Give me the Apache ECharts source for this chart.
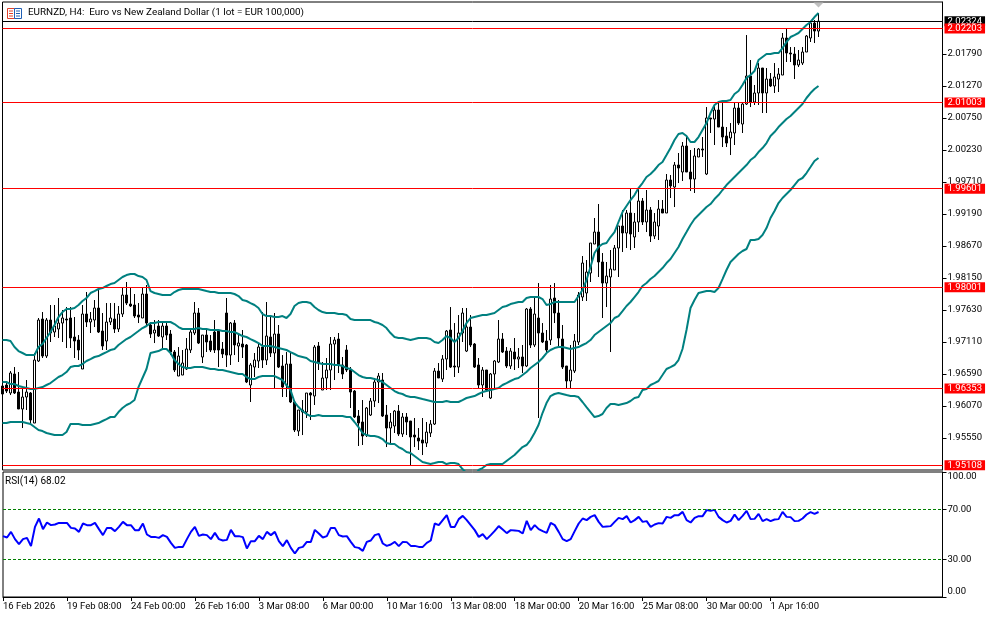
<!DOCTYPE html>
<html><head><meta charset="utf-8">
<style>html,body{margin:0;padding:0;background:#fff}#c{width:994px;height:618px}</style>
<script src="https://cdn.jsdelivr.net/npm/echarts@6/dist/echarts.min.js"></script>
</head><body><div id="c"></div>
<script>
const titleText = "EURNZD, H4:  Euro vs New Zealand Dollar (1 lot = EUR 100,000)";
const rsiText = "RSI(14) 68.02";
const tickLabels = ["16 Feb 2026","19 Feb 08:00","24 Feb 00:00","26 Feb 16:00","3 Mar 08:00","6 Mar 00:00","10 Mar 16:00","13 Mar 08:00","18 Mar 00:00","20 Mar 16:00","25 Mar 08:00","30 Mar 00:00","1 Apr 16:00"];
const priceTicks = [2.0179,2.0127,2.0075,2.0023,1.9971,1.9919,1.9867,1.9815,1.9763,1.9711,1.9659,1.9607,1.9555];
const rsiTicks = [0,30,70,100];
const rsiLabelSlots = [4,30,70,96];
const rsiLevels = [70,30];
const redLevels = [2.02203,2.01003,1.99601,1.98001,1.96353,1.95108];
const lastPrice = 2.02324;
// all prices below in points (1 point = 0.00001)
// [open, close, low, high]
const ohlc = [
[196395,196265,196248,196427],[196411,196313,196281,196476],[196281,196606,196248,196638],[196590,196281,196265,196703],[196297,196021,196021,196622],
[196021,196216,195712,196378],[196216,196297,196005,196492],[196281,195842,195793,196297],[195793,196817,195793,196931],[196801,197467,196785,197500],
[197483,196882,196850,197597],[196882,197467,196850,197500],[197467,197256,197110,197711],[197272,197370,197191,197711],[197321,197418,197175,197825],
[197418,197500,197110,197630],[197483,197467,197012,197678],[197500,197175,197012,197678],[197191,197126,196850,197516],[197142,196980,196817,197223],
[196671,197565,196671,197711],[197565,197435,197353,197922],[197435,197483,197256,197597],[197467,197662,197353,197792],[197662,197272,197256,197987],
[197288,197045,196980,197581],[197126,197435,196980,197743],[197435,197500,197386,197743],[197483,197321,197256,197743],[197321,197565,197272,197695],
[197565,197873,197516,198003],[197873,197743,197711,198085],[197727,197695,197678,198003],[197711,197532,197500,197890],[197548,197516,197418,197743],
[197500,197890,197500,197987],[197890,197418,197386,198036],[197386,197240,197175,197435],[197256,197305,197093,197467],[197370,197207,197191,197467],
[197191,197370,196980,197435],[197370,197223,197142,197435],[197240,196947,196898,197305],[196947,196655,196622,196980],[196557,196882,196557,197028],
[196573,196768,196573,196980],[196671,196996,196655,197175],[196980,197272,196931,197305],[197256,197581,197223,197760],[197581,197093,197077,197662],
[196866,197223,196768,197223],[197223,197110,196947,197305],[197126,196980,196947,197223],[197272,196980,196931,197467],[197288,196980,196703,197305],
[196996,196915,196850,197110],[197581,196898,196703,197825],[196898,197418,196736,197435],[197418,197061,196898,197467],[197045,197093,196785,197256],
[197077,197028,196850,197305],[197061,196460,196443,197077],[196411,196736,196135,196768],[196703,196817,196541,196931],[196801,197028,196687,197093],
[197028,196817,196687,197597],[196817,197207,196736,197760],[197191,196931,196866,197516],[196931,197240,196362,197581],[197240,196703,196687,197386],
[196720,196378,196216,196898],[196411,196752,196216,196947],[196752,196135,196118,196931],[196135,195680,195647,196135],[195663,196005,195582,196005],
[196005,195972,195598,196167],[195972,196281,195875,196281],[196281,196248,195842,196297],[196232,197028,196086,197061],[197045,196768,196655,197110],
[196330,196525,196330,196785],[196525,196655,196330,196850],[196655,197077,196330,197191],[197077,197142,196492,197191],[197158,196736,196606,197256],
[196736,196590,196508,196866],[196980,196655,196622,197061],[196655,196297,196037,196703],[196313,195891,195875,196330],[195907,195793,195420,196005],
[195810,195582,195436,196167],[195598,196037,195566,196053],[195923,196151,195907,196200],[196151,196460,196053,196525],[196460,196557,196118,196606],
[196492,195907,195891,196606],[195923,195712,195403,196086],[195712,195810,195468,195956],[195745,195988,195631,196005],[195988,195615,195582,196086],
[195615,195891,195566,195956],[195891,195810,195598,195956],[195826,195566,195111,195826],[195598,195566,195403,195875],[195550,195501,195355,195712],
[195517,195468,195273,195875],[195468,195647,195403,195810],[195631,195777,195566,195842],[195777,196638,195761,196687],[196638,196525,196525,196768],
[196508,196833,196460,196898],[196833,197288,196655,197305],[197305,196703,196687,197678],[196720,196703,196541,197418],[196703,197256,196606,197548],
[197256,197581,197110,197662],[196963,197353,196947,197662],[197353,197061,197028,197548],[197077,196703,196687,197093],[196736,196411,196362,196850],
[196411,196655,196216,196703],[196655,196330,196297,196655],[196200,196590,196183,196606],[196590,196801,196362,196817],[196785,197158,196768,197467],
[197158,196947,196931,197256],[196963,196720,196687,197028],[196720,196963,196671,197012],[196947,196833,196655,197175],[196833,196866,196687,197012],
[196866,196720,196606,197061],[196720,197646,196703,197662],[197646,197061,197012,197678],[197061,197565,197028,197841],[197500,197256,195875,198068],
[197256,197110,197093,197418],[197126,196980,196947,197305],[197142,197808,197061,198036],[197825,197581,197418,198068],[197581,197175,197028,197792],
[197158,196703,196671,197386],[196720,196476,196362,196720],[196476,196655,196362,197061],[196638,197126,196606,197240],[197110,197873,197061,197922],
[197841,198393,197776,198507],[197906,198247,197776,198442],[198231,198718,198085,198718],[198702,198897,198702,199125],[198897,198410,198166,199352],
[198410,198068,197500,198556],[198068,198182,197678,198410],[198166,198296,196947,198605],[198280,198637,198280,198686],[198637,198995,198166,198995],
[198995,198881,198572,199255],[198881,199206,198637,199255],[199206,198865,198605,199612],[198816,199060,198637,199206],[199060,199401,198897,199612],
[199401,199060,199011,199450],[199060,199255,198897,199580],[199255,198832,198735,199303],[198832,199060,198783,199206],[198995,199271,198767,199417],
[199271,199206,199206,199417],[199206,199742,199206,199840],[199742,199645,199450,199823],[199628,199986,199303,200035],[199986,199937,199693,200181],
[199872,200295,199726,200360],[200295,199872,199872,200441],[199872,199758,199563,200230],[199758,200132,199531,200262],[200116,200246,200116,200262],
[200246,200230,200116,200441],[199840,200750,199823,200928],[200750,200733,200506,200750],[200733,200880,200311,200961],[200880,200603,200603,201010],
[200603,200441,200278,200993],[200457,200343,200278,200603],[200425,200522,200148,200668],[200506,200912,200311,201010],[200912,200668,200636,201010],
[200652,200977,200506,201010],[200977,201432,200961,202098],[201432,201010,200928,201692],[201010,201156,200961,201286],[201156,201562,200961,201643],
[201562,201156,200831,201562],[201156,201383,200831,201562],[201383,201270,201253,201481],[201270,201416,201156,201643],[201383,201465,201172,201562],
[201448,202050,201448,202131],[202050,201806,201660,202196],[201806,201790,201660,201903],[201790,201611,201383,201903],[201611,201692,201578,201855],
[201643,201822,201611,201903],[201822,202082,201822,202098],[202050,202293,201985,202310],[202293,202163,201968,202342],[202163,202324,202066,202456]
];
const bbUpper = [
197142,197142,197126,197028,196963,196931,196898,196898,196898,197028,197077,197175,197272,197386,197516,197597,197646,197646,197662,197711,
197776,197825,197906,197938,197971,197987,198020,198052,198068,198117,198166,198198,198215,198215,198182,198166,198117,197938,197906,197890,
197873,197873,197873,197922,197955,197971,197971,197971,197971,197971,197955,197938,197922,197922,197906,197906,197906,197906,197890,197857,
197792,197776,197743,197711,197662,197565,197532,197532,197516,197516,197532,197500,197565,197695,197743,197760,197760,197743,197678,197630,
197597,197581,197581,197581,197565,197565,197548,197483,197467,197467,197467,197467,197467,197435,197418,197386,197337,197256,197191,197175,
197175,197158,197142,197158,197175,197175,197175,197158,197110,197093,197142,197207,197175,197110,197175,197288,197418,197500,197516,197532,
197548,197548,197565,197581,197630,197678,197695,197727,197743,197760,197760,197825,197841,197841,197841,197808,197711,197727,197760,197760,
197760,197760,197760,197760,197857,197955,198117,198328,198556,198653,198702,198718,198816,198897,199060,199222,199320,199417,199498,199612,
199693,199791,199840,199905,199986,200035,200148,200262,200392,200490,200506,200457,200360,200360,200441,200555,200668,200831,200961,201010,
201026,201026,201042,201140,201188,201286,201400,201448,201513,201692,201741,201790,201790,201806,201806,201887,201985,202066,202098,202131,
202196,202261,202310,202391,202456
];
const bbMiddle = [
196460,196460,196427,196427,196395,196378,196362,196346,196346,196362,196378,196411,196443,196492,196541,196573,196622,196703,196720,196720,
196752,196801,196833,196866,196882,196915,196947,196980,196996,197061,197110,197158,197191,197240,197288,197337,197370,197418,197418,197435,
197435,197435,197435,197402,197353,197321,197321,197321,197321,197337,197321,197321,197305,197305,197305,197288,197288,197272,197272,197240,
197207,197191,197158,197126,197093,197045,197045,197045,197028,197012,196996,196980,196947,196915,196882,196866,196850,196801,196785,196768,
196752,196752,196752,196736,196736,196720,196687,196671,196622,196573,196541,196525,196525,196508,196492,196460,196411,196362,196313,196281,
196265,196232,196216,196216,196200,196183,196167,196151,196135,196135,196135,196151,196135,196135,196135,196167,196200,196216,196232,196265,
196297,196313,196330,196346,196362,196411,196443,196476,196508,196525,196573,196622,196687,196736,196785,196850,196931,196980,197012,197028,
197028,197012,196996,197012,197028,197061,197093,197142,197223,197272,197321,197370,197418,197500,197532,197613,197695,197760,197841,197922,
198020,198068,198133,198182,198247,198312,198393,198458,198556,198653,198784,198897,199011,199108,199173,199238,199303,199352,199433,199498,
199580,199661,199726,199791,199856,199921,199986,200067,200116,200197,200262,200343,200457,200522,200603,200668,200733,200782,200847,200912,
200977,201075,201156,201221,201270
];
const bbLower = [
195793,195793,195810,195810,195810,195810,195793,195777,195728,195680,195663,195631,195615,195598,195598,195598,195647,195777,195777,195777,
195761,195761,195761,195777,195793,195826,195858,195891,195891,195972,196037,196086,196118,196167,196378,196525,196671,196931,196947,196963,
196996,196996,196931,196817,196752,196703,196687,196687,196703,196703,196703,196687,196671,196671,196655,196655,196638,196622,196606,196590,
196590,196541,196508,196508,196541,196557,196557,196557,196557,196525,196492,196411,196330,196135,196053,195988,195940,195907,195907,195923,
195907,195907,195907,195907,195907,195907,195891,195891,195810,195728,195631,195598,195582,195582,195566,195533,195468,195452,195452,195403,
195371,195322,195306,195257,195208,195160,195143,195127,195143,195160,195160,195127,195143,195143,195127,195046,194981,194916,194916,195030,
195062,195111,195127,195127,195127,195127,195176,195225,195273,195338,195403,195436,195517,195631,195761,195956,196118,196232,196265,196281,
196265,196248,196232,196232,196216,196135,196053,195972,195891,195907,195940,196037,196102,196102,196086,196102,196118,196151,196200,196216,
196330,196346,196411,196443,196476,196573,196671,196703,196736,196817,196996,197305,197662,197792,197906,197922,197938,197938,197922,197987,
198133,198280,198410,198475,198540,198589,198621,198767,198767,198783,198848,198962,199125,199238,199368,199450,199515,199580,199661,199742,
199775,199856,199953,200051,200100
];
const rsiValues = [
48.7,47.6,52.1,46.3,42.3,46.3,47.3,40.7,56.1,62.8,54.3,59.6,57.5,58,59.3,59.3,59.3,55.3,54.8,52.1,
58.8,57.5,57.5,59.3,54.3,49.5,55.3,55.3,52.7,56.1,60.1,57.5,57.5,53.5,53.5,58.8,50,48.1,48.1,47.3,
49.5,48.1,43.3,39.3,40.1,40.1,46.3,52.1,56.1,48.9,50,49.5,46.3,51.3,46.3,45.2,45.7,53.7,48.7,48.7,
47.9,38.8,44.7,44.7,48.9,46.3,52.1,49.5,52.1,44.7,40.7,45.5,39.3,34.8,39.3,40.1,44.1,44.1,53.7,50.8,
47.6,48.7,55.3,55.3,49.5,48.4,48.7,44.1,39.9,39.3,36.9,44.1,45.2,49.5,50.5,42.8,40.9,42,44.1,40.7,
44.1,43.9,40.9,40.9,40.1,40.1,43.3,45.2,58.8,57.5,61.5,65.5,56.1,56.1,62.3,64.9,61.5,57.5,53.5,48.1,
50.3,46.3,49.5,52.9,56.7,54,51.1,53.5,53.2,52.9,50.8,60.9,53.5,57.5,54.3,52.7,51.3,59.3,57.5,52.1,
46.3,44.7,46.3,52.7,58.8,62.8,61.5,64.1,65.5,60.1,56.1,56.4,56.7,60.1,63.3,62.3,64.7,59.6,61.5,64.1,
60.1,60.7,56.1,58,59.1,58.8,64.1,63.3,65.5,65.5,68.1,61.5,59.6,63.3,64.7,64.7,69.5,68.9,69.7,64.1,
61.5,59.6,60.9,66,61.5,64.9,68.9,62.3,62.5,66.5,60.7,62.3,60.7,62,62.3,68.1,64.1,63.9,60.7,60.9,
62.8,66,67.9,66.5,68.02
];

const P = v => v / 100000;
const slotCount = 236;
const categories = Array.from({length: slotCount}, (_, i) => (i % 16 === 0 && tickLabels[i / 16]) || ("#" + i));
const isLabelled = (i, v) => !String(v).startsWith("#");
const FONT = "Roboto";
const FS = 9.5;

const levelLine = (value, bg) => ({
  yAxis: value,
  lineStyle: {color: bg, width: 1, type: "solid"},
  label: {show: true, position: "end", distance: 2, formatter: value.toFixed(5), color: "#fff",
    backgroundColor: bg, padding: [1, 3, 0, 3], fontFamily: FONT, fontSize: FS, lineHeight: 9}
});

const chart = echarts.init(document.getElementById("c"), null, {renderer: "canvas"});
chart.setOption({
  animation: false,
  backgroundColor: "#fff",
  title: [
    {text: titleText, left: 28, top: 8, padding: 0, textStyle: {fontFamily: FONT, fontSize: 9.9, fontWeight: "normal", color: "#000"}},
    {text: rsiText, left: 5, top: 476, padding: 0, textStyle: {fontFamily: FONT, fontSize: 10, fontWeight: "normal", color: "#000"}}
  ],
  grid: [
    {left: 2.5, right: 51.5, top: 2, height: 468, show: true, borderColor: "#000", borderWidth: 1, backgroundColor: "#fff"},
    {left: 2.5, right: 51.5, top: 472, height: 125, show: true, borderColor: "#000", borderWidth: 1, backgroundColor: "#fff"}
  ],
  xAxis: [
    {type: "category", gridIndex: 0, data: categories, boundaryGap: false,
     axisLine: {show: false}, axisTick: {show: false}, axisLabel: {show: false}, splitLine: {show: false}},
    {type: "category", gridIndex: 1, data: categories, boundaryGap: false,
     axisLine: {show: true, lineStyle: {color: "#000"}},
     axisTick: {show: true, interval: isLabelled, length: 4, lineStyle: {color: "#000"}},
     axisLabel: {show: true, interval: isLabelled, margin: 5, align: "left", color: "#000", fontFamily: FONT, fontSize: FS},
     splitLine: {show: false}}
  ],
  yAxis: [
    {type: "value", gridIndex: 0, position: "right", min: 1.9503, max: 2.02635, scale: true,
     axisLine: {show: true, lineStyle: {color: "#000"}},
     axisTick: {show: true, length: 4, lineStyle: {color: "#000"}, customValues: priceTicks},
     axisLabel: {show: true, margin: 5, color: "#000", fontFamily: FONT, fontSize: FS, customValues: priceTicks, formatter: v => v.toFixed(5)},
     splitLine: {show: false}},
    {type: "value", gridIndex: 1, position: "right", min: 0, max: 100,
     axisLine: {show: true, lineStyle: {color: "#000"}},
     axisTick: {show: true, length: 4, lineStyle: {color: "#000"}, customValues: rsiTicks},
     axisLabel: {show: true, margin: 5, color: "#000", fontFamily: FONT, fontSize: FS, customValues: rsiLabelSlots,
       formatter: v => v > 90 ? "100.00" : v < 10 ? "0.00" : v.toFixed(2)},
     splitLine: {show: false}}
  ],
  series: [
    {type: "candlestick", xAxisIndex: 0, yAxisIndex: 0, barWidth: 2, clip: true, silent: true, z: 2,
     data: ohlc.map(r => r.map(P)),
     itemStyle: {color: "#fff", color0: "#000", borderColor: "#000", borderColor0: "#000", borderWidth: 1}},
    {type: "line", name: "upper", xAxisIndex: 0, yAxisIndex: 0, data: bbUpper.map(P), showSymbol: false, symbol: "none", clip: true, silent: true, z: 3,
     lineStyle: {color: "#008080", width: 2}},
    {type: "line", name: "middle", xAxisIndex: 0, yAxisIndex: 0, data: bbMiddle.map(P), showSymbol: false, symbol: "none", clip: true, silent: true, z: 3,
     lineStyle: {color: "#008080", width: 2}},
    {type: "line", name: "lower", xAxisIndex: 0, yAxisIndex: 0, data: bbLower.map(P), showSymbol: false, symbol: "none", clip: true, silent: true, z: 3,
     lineStyle: {color: "#008080", width: 2},
     markLine: {silent: true, symbol: "none", animation: false, precision: 5, z: 5,
       data: [levelLine(lastPrice, "#000")].concat(redLevels.map(v => levelLine(v, "#ff0000")))},
     markPoint: {silent: true, animation: false, symbol: "triangle", symbolRotate: 180, symbolSize: [10, 5],
       itemStyle: {color: "#c0c0c0"}, label: {show: false}, data: [{coord: [204, 2.02586]}]}},
    {type: "line", name: "RSI", xAxisIndex: 1, yAxisIndex: 1, data: rsiValues, showSymbol: false, symbol: "none", silent: true, z: 3,
     lineStyle: {color: "#0000ff", width: 2},
     markLine: {silent: true, symbol: "none", animation: false, label: {show: false},
       lineStyle: {color: "#008000", width: 1, type: [3, 2]}, data: rsiLevels.map(v => ({yAxis: v}))}}
  ],
  graphic: [{type: "group", silent: true, children: [
    {type: "rect", shape: {x: 7.5, y: 8.5, width: 7, height: 10}, style: {fill: "#fff", stroke: "#e0402a", lineWidth: 1}},
    {type: "rect", shape: {x: 14.5, y: 8.5, width: 7, height: 10}, style: {fill: "#fff", stroke: "#1f5fb4", lineWidth: 1}},
    {type: "line", shape: {x1: 9, y1: 11, x2: 13, y2: 11}, style: {stroke: "#e0402a", lineWidth: 1}},
    {type: "line", shape: {x1: 9, y1: 13.5, x2: 13, y2: 13.5}, style: {stroke: "#e0402a", lineWidth: 1}},
    {type: "line", shape: {x1: 9, y1: 16, x2: 13, y2: 16}, style: {stroke: "#e0402a", lineWidth: 1}},
    {type: "line", shape: {x1: 16, y1: 11, x2: 20, y2: 11}, style: {stroke: "#1f5fb4", lineWidth: 1}},
    {type: "line", shape: {x1: 16, y1: 13.5, x2: 20, y2: 13.5}, style: {stroke: "#1f5fb4", lineWidth: 1}},
    {type: "line", shape: {x1: 16, y1: 16, x2: 20, y2: 16}, style: {stroke: "#1f5fb4", lineWidth: 1}}
  ]}]
});
</script></body></html>
